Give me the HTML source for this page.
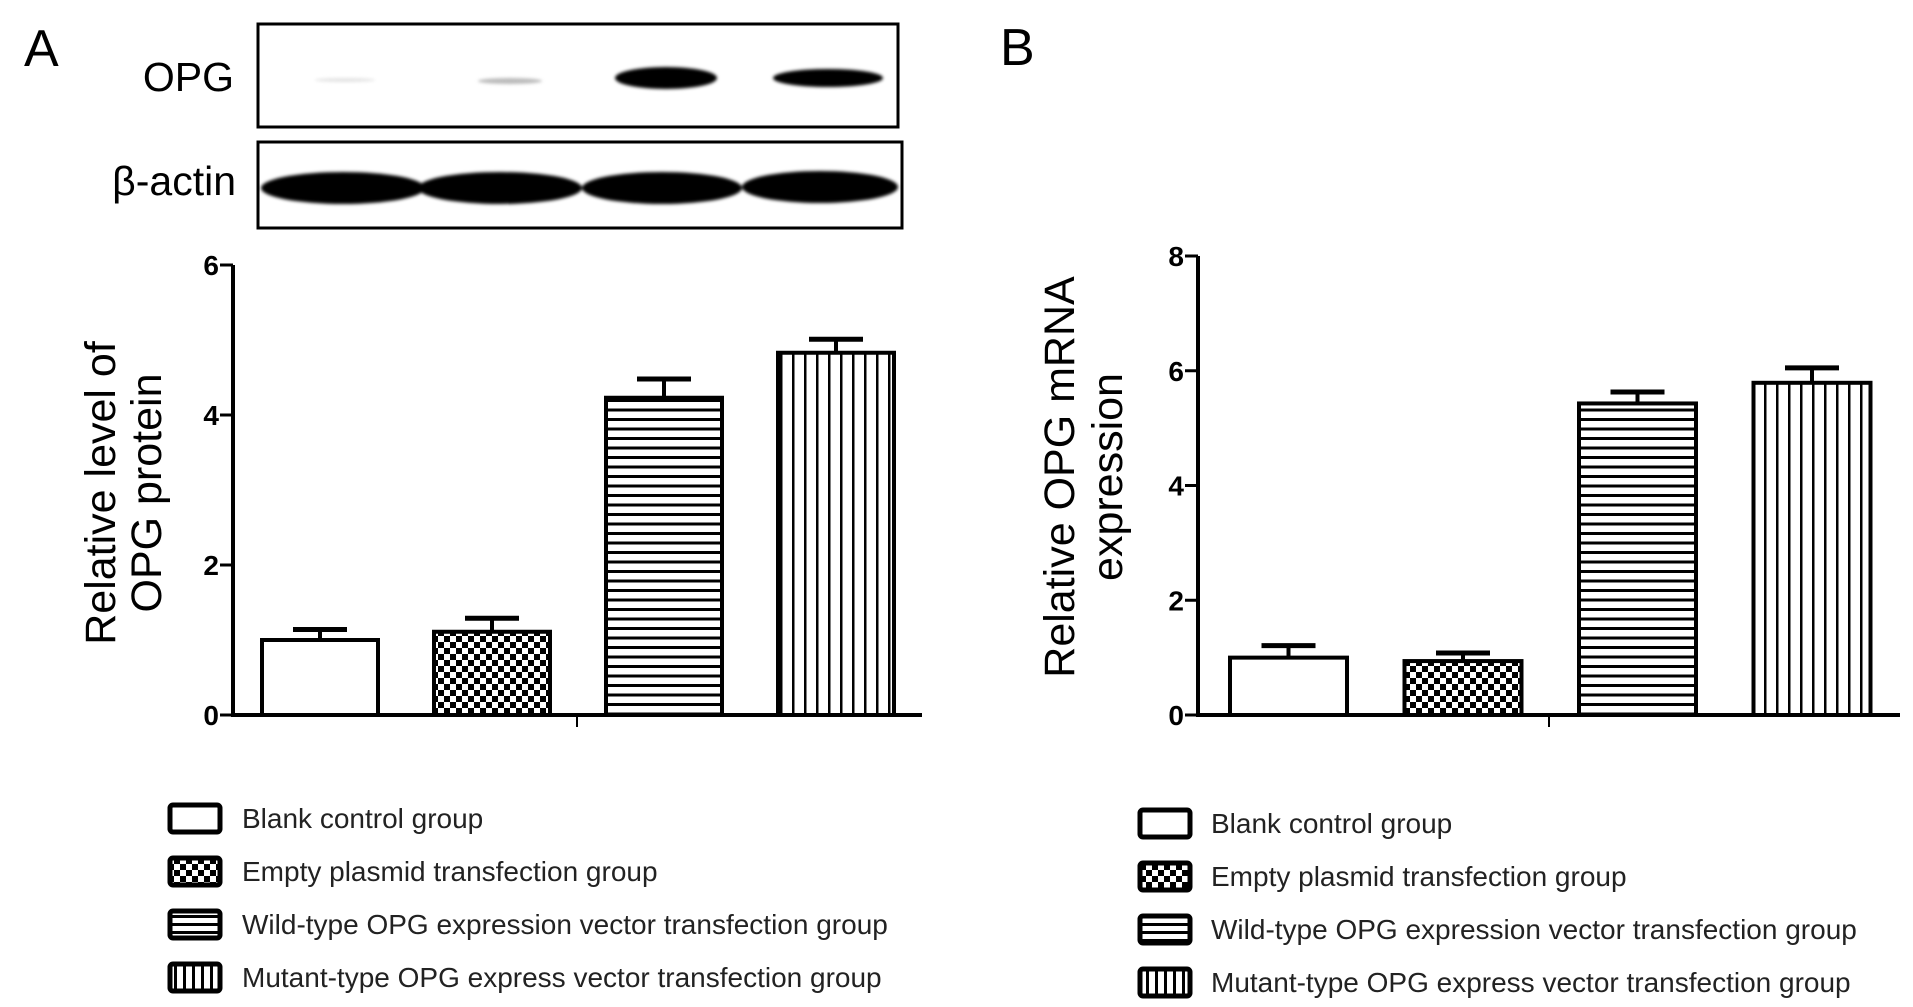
<!DOCTYPE html>
<html><head><meta charset="utf-8"><style>
html,body{margin:0;padding:0;background:#fff;}
svg{display:block;font-family:"Liberation Sans",Arial,sans-serif;}
</style></head><body>
<svg id="fig" width="1913" height="1007" viewBox="0 0 1913 1007">
<defs>
<pattern id="pCheck" width="12" height="12" patternUnits="userSpaceOnUse"><rect width="12" height="12" fill="#fff"/><rect width="6" height="6" fill="#000"/><rect x="6" y="6" width="6" height="6" fill="#000"/></pattern>
<pattern id="pHoriz" width="10" height="9.5" patternUnits="userSpaceOnUse"><rect width="10" height="9.5" fill="#fff"/><rect y="0" width="10" height="3" fill="#000"/></pattern>
<pattern id="pVert" width="12" height="10" patternUnits="userSpaceOnUse"><rect width="12" height="10" fill="#fff"/><rect x="0" width="2.5" height="10" fill="#000"/></pattern>
<pattern id="lHoriz" width="10" height="8" patternUnits="userSpaceOnUse"><rect width="10" height="8" fill="#fff"/><rect y="3" width="10" height="3" fill="#000"/></pattern>
<pattern id="lVert" width="9" height="10" patternUnits="userSpaceOnUse"><rect width="9" height="10" fill="#fff"/><rect x="3" width="3" height="10" fill="#000"/></pattern>
<filter id="blur"><feGaussianBlur stdDeviation="1.5"/></filter>
</defs>

<text x="24" y="66" font-size="52">A</text>
<text x="1000" y="65" font-size="52">B</text>

<g>
<text x="234" y="91" font-size="41" text-anchor="end">OPG</text>
<text x="236" y="195" font-size="41" text-anchor="end">β-actin</text>
<rect x="258" y="24" width="640" height="103" fill="#fff" stroke="#000" stroke-width="3"/>
<rect x="258" y="142" width="644" height="86" fill="#fff" stroke="#000" stroke-width="3"/>
<g filter="url(#blur)">
<ellipse cx="345" cy="80" rx="30" ry="2" fill="#e4e4e4"/>
<ellipse cx="510" cy="81" rx="32" ry="3" fill="#bbb"/>
<ellipse cx="666" cy="78" rx="51" ry="11" fill="#000"/>
<ellipse cx="828" cy="78" rx="55" ry="9" fill="#000"/>
<ellipse cx="343" cy="188" rx="82" ry="16" fill="#000"/>
<ellipse cx="500" cy="188" rx="82" ry="16" fill="#000"/>
<ellipse cx="662" cy="188" rx="80" ry="16" fill="#000"/>
<ellipse cx="820" cy="187" rx="78" ry="16" fill="#000"/>
</g>
</g>

<g id="chartA"></g>
<g id="chartB"></g>
<g id="legendA"></g>
<g id="legendB"></g>
</svg>
<script>
const groups = ["Blank control group","Empty plasmid transfection group","Wild-type OPG expression vector transfection group","Mutant-type OPG express vector transfection group"];
const proteinValues = [1.0, 1.11, 4.23, 4.83];
const proteinErrors = [0.14, 0.18, 0.25, 0.18];
const proteinTicks = [0, 2, 4, 6];
const mrnaValues = [1.0, 0.94, 5.43, 5.79];
const mrnaErrors = [0.21, 0.14, 0.2, 0.26];
const mrnaTicks = [0, 2, 4, 6, 8];
const fills = ["#fff","url(#pCheck)","url(#pHoriz)","url(#pVert)"];
const legendFills = ["#fff","url(#pCheck)","url(#lHoriz)","url(#lVert)"];
const NS = "http://www.w3.org/2000/svg";
function mk(parent, tag, attrs, text){const e=document.createElementNS(NS,tag);for(const k in attrs)e.setAttribute(k,attrs[k]);if(text!==undefined)e.textContent=text;parent.appendChild(e);return e;}

function drawChart(g, cfg){
  const y = v => cfg.y0 - (v - 0) / cfg.yMax * (cfg.y0 - cfg.yTop);
  const x = i => cfg.barX0 + i * cfg.barStep;
  cfg.values.forEach((v,i)=>{
    const bx = x(i), top = y(v), et = y(v + cfg.errors[i]);
    const eb = mk(g,'line',{x1:bx+cfg.barW/2,x2:bx+cfg.barW/2,y1:top,y2:et,stroke:'#000','stroke-width':4});
    
    
    const cap = mk(g,'line',{x1:bx+cfg.barW/2-27,x2:bx+cfg.barW/2+27,y1:et,y2:et,stroke:'#000','stroke-width':5});
    
    
    const r = mk(g,'rect',{x:bx,y:top,width:cfg.barW,height:cfg.y0-top,fill:fills[i],stroke:'#000','stroke-width':4});
    
    
  });
  const ya = mk(g,'line',{x1:cfg.ax,x2:cfg.ax,y1:cfg.yTop,y2:cfg.y0+2,stroke:'#000','stroke-width':4});
  
  
  const xa = mk(g,'line',{x1:cfg.ax-2,x2:cfg.xEnd,y1:cfg.y0,y2:cfg.y0,stroke:'#000','stroke-width':4});
  
  
  const mt = mk(g,'line',{x1:cfg.midTick,x2:cfg.midTick,y1:cfg.y0,y2:cfg.y0+12,stroke:'#000','stroke-width':2});
  
  
  cfg.ticks.forEach(t=>{
    const tk = mk(g,'line',{x1:cfg.ax-13,x2:cfg.ax,y1:y(t),y2:y(t),stroke:'#000','stroke-width':3});
    
    
    const tl = mk(g,'text',{x:cfg.ax-14,y:y(t)+10,'font-size':28,'font-weight':'bold','text-anchor':'end'},String(t));
    
    
  });
  const tt = mk(g,'text',{transform:`translate(${cfg.titleX},${cfg.titleY}) rotate(-90)`,'font-size':43,'text-anchor':'middle'});
  
  
  mk(tt,'tspan',{x:0,y:0},cfg.title[0]);
  mk(tt,'tspan',{x:0,y:cfg.titleGap},cfg.title[1]);
}

drawChart(document.getElementById('chartA'),{values:proteinValues,errors:proteinErrors,ticks:proteinTicks,yMax:6,y0:715,yTop:265,ax:233,xEnd:922,barX0:262,barStep:172,barW:116,midTick:577,titleX:115,titleY:493,titleGap:46,title:["Relative level of","OPG protein"]});
drawChart(document.getElementById('chartB'),{values:mrnaValues,errors:mrnaErrors,ticks:mrnaTicks,yMax:8,y0:715,yTop:256,ax:1198,xEnd:1900,barX0:1230,barStep:174.5,barW:117,midTick:1549,titleX:1074,titleY:477,titleGap:48,title:["Relative OPG mRNA","expression"]});

function drawLegend(g, sx, tx, ys){
  groups.forEach((name,i)=>{
    const r = mk(g,'rect',{x:sx+2,y:ys[i]-13,width:50,height:27,rx:3,fill:legendFills[i],stroke:'#000','stroke-width':5});
    
    
    const t = mk(g,'text',{x:tx,y:ys[i]+10,'font-size':28,fill:'#222'},name);
    
    
  });
}
drawLegend(document.getElementById('legendA'),168,242,[818,871,924,977]);
drawLegend(document.getElementById('legendB'),1138,1211,[823,876,929,982]);
</script>
</body></html>
